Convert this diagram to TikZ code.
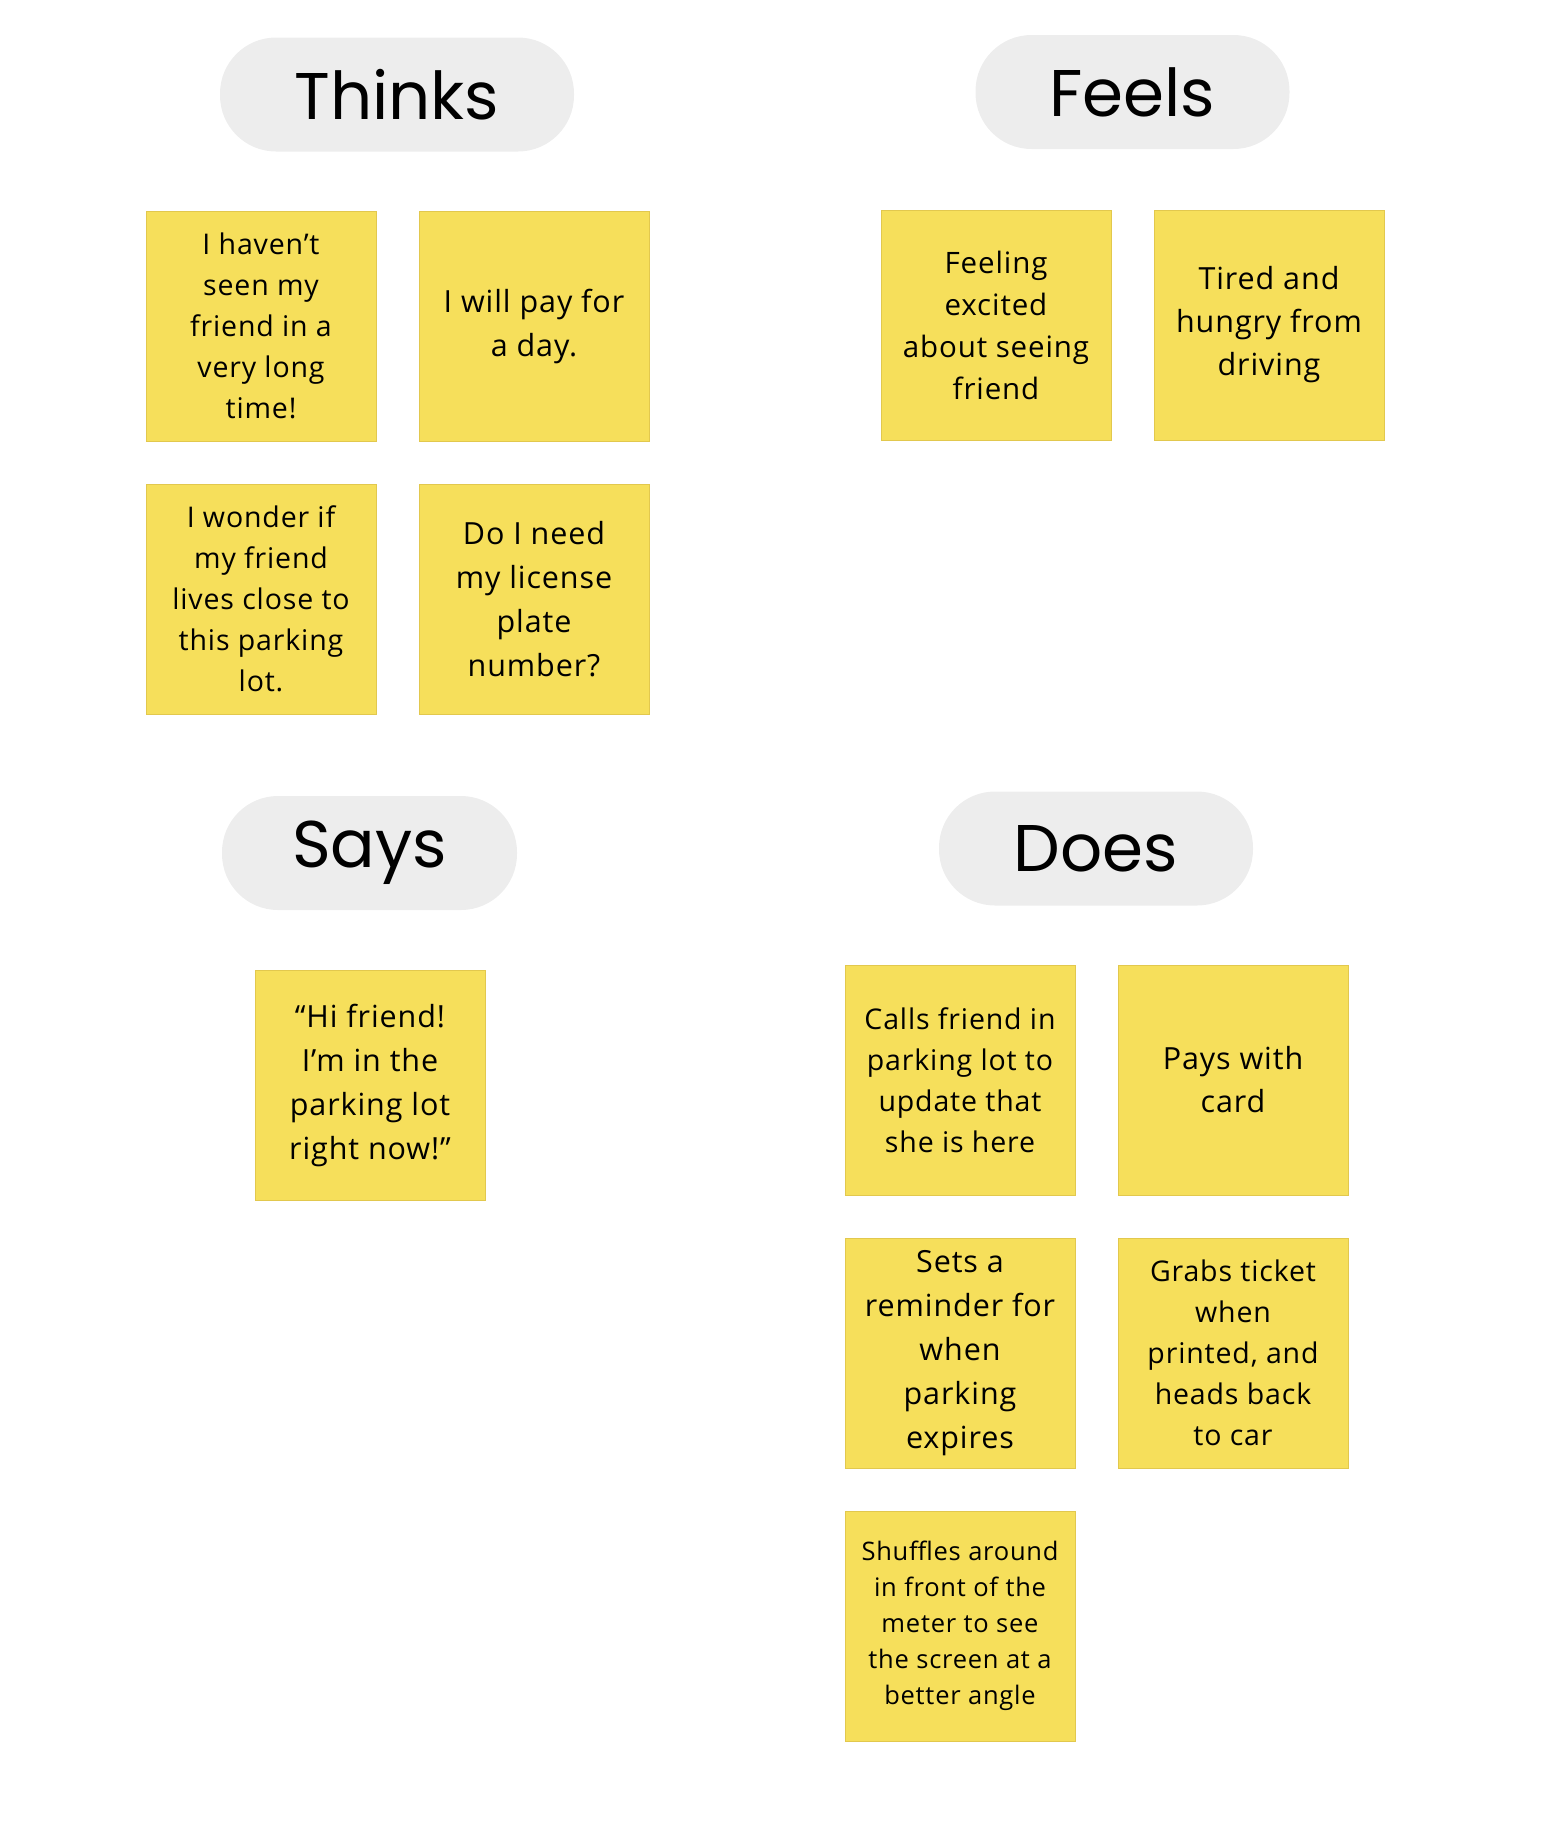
\documentclass[tikz,border=0pt]{standalone}
\usepackage{fontspec}
\setmainfont[LetterSpace=3]{Open Sans}
\newfontfamily\headfont{Poppins}
\usetikzlibrary{positioning}
\definecolor{notefill}{HTML}{F6DF5B}
\definecolor{noteedge}{HTML}{E2C84E}
\definecolor{pillgray}{HTML}{EDEDED}
\tikzset{note node/.style={rectangle, draw=noteedge, fill=notefill, line width=1pt, minimum size=230pt, inner sep=0pt, align=center, font=\fontsize{29.5}{42}\selectfont},
    head node/.style={rectangle, rounded corners=56pt, fill=pillgray, minimum height=114pt, font=\headfont\fontsize{66}{70}\selectfont},}

\begin{document}
\begin{tikzpicture}[x=1pt,y=-1pt]
        \useasboundingbox (0,0) rectangle (1559,1832);
        % Headings
        \node[head node, minimum width=354pt] (thinks) at (397,94.5) {Thinks};
        \node[head node, minimum width=314pt] (feels) at (1132.5,92) {Feels};
        \node[head node, minimum width=295pt] (says) at (369.5,853) {Says};
        \node[head node, minimum width=314pt] (does) at (1096,848.5) {Does};
        % Thinks
        \node[note node, font=\fontsize{28.5}{41}\selectfont] (t1) at (261,326) {I haven’t\\seen my\\friend in a\\very long\\time!};
        \node[note node, font=\fontsize{30.5}{44}\selectfont] [right = 42pt of t1] (t2) {I will pay for\\a day.};
        \node[note node, font=\fontsize{28.5}{41}\selectfont] [below = 42pt of t1] (t3) {I wonder if\\my friend\\lives close to\\this parking\\lot.};
        \node[note node, font=\fontsize{30.5}{44}\selectfont] [right = 42pt of t3] (t4) {Do I need\\my license\\plate\\number?};
        % Feels
        \node[note node] (f1) at (996,325) {Feeling\\excited\\about seeing\\friend};
        \node[note node, font=\fontsize{30.5}{43}\selectfont] [right = 42pt of f1] (f2) {Tired and\\hungry from\\driving};
        % Says
        \node[note node, font=\fontsize{30.5}{44}\selectfont] (s1) at (370,1085) {“Hi friend!\\I’m in the\\parking lot\\right now!”};
        % Does
        \node[note node, font=\fontsize{28.5}{41}\selectfont] (d1) at (960,1080) {Calls friend in\\parking lot to\\update that\\she is here};
        \node[note node, font=\fontsize{30.5}{43}\selectfont] [right = 42pt of d1] (d2) {Pays with\\card};
        \node[note node, font=\fontsize{30.5}{44}\selectfont] [below = 42pt of d1] (d3) {Sets a\\reminder for\\when\\parking\\expires};
        \node[note node, font=\fontsize{28.5}{41}\selectfont] [right = 42pt of d3] (d4) {Grabs ticket\\when\\printed, and\\heads back\\to car};
        \node[note node, font=\fontsize{25.5}{36}\selectfont] [below = 42pt of d3] (d5) {Shuffles around\\in front of the\\meter to see\\the screen at a\\better angle};
    \end{tikzpicture}
\end{document}
